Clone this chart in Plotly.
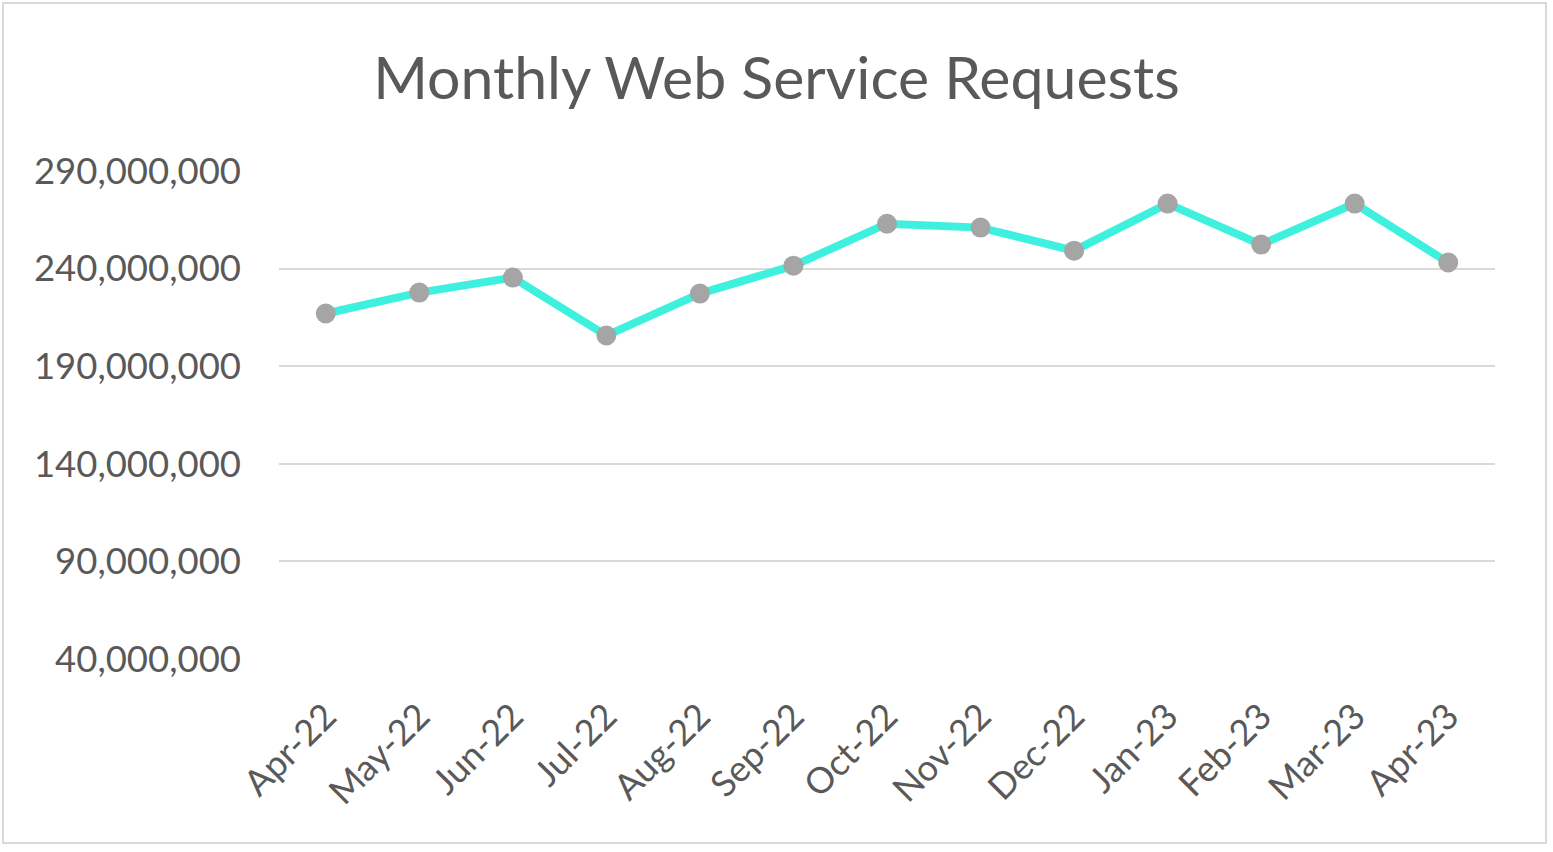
import plotly.graph_objects as go

months = ["Apr-22", "May-22", "Jun-22", "Jul-22", "Aug-22", "Sep-22", "Oct-22",
          "Nov-22", "Dec-22", "Jan-23", "Feb-23", "Mar-23", "Apr-23"]
requests = [217000000, 227700000, 235400000, 205700000, 227200000, 241500000, 263000000,
            261000000, 249200000, 273300000, 252300000, 273300000, 243100000]
y_ticks = [40000000, 90000000, 140000000, 190000000, 240000000, 290000000]

W, H = 1553, 852
L, R, T, B = 279, 58, 171, 193
pw, ph = W - L - R, H - T - B

fig = go.Figure()
fig.add_trace(go.Scatter(
    x=list(range(len(months))), y=requests, mode="lines+markers",
    line=dict(color="#3EF0DE", width=8),
    marker=dict(color="#A5A5A5", size=20),
    hoverinfo="skip", showlegend=False,
))

def px_x(p):
    return (p - L) / pw

def px_y(p):
    return (H - B - p) / ph

fig.update_layout(
    width=W, height=H,
    margin=dict(l=L, r=R, t=T, b=B),
    paper_bgcolor="white", plot_bgcolor="white",
    font=dict(family="Lato, 'Open Sans', sans-serif", color="#595959"),
    title=dict(text="Monthly Web Service Requests", x=0.5, xref="container",
               xanchor="center", y=1 - 78 / H, yref="container", yanchor="middle",
               font=dict(size=59, color="#595959")),
    xaxis=dict(
        tickmode="array", tickvals=list(range(len(months))), ticktext=months,
        range=[-0.5, len(months) - 0.5], tickangle=-45, showgrid=False,
        zeroline=False, showline=False, ticks="", ticklabelstandoff=28,
        tickfont=dict(size=36, color="#595959"), fixedrange=True,
    ),
    yaxis=dict(
        range=[40000000, 290000000], tickvals=y_ticks, tickformat=",d",
        showgrid=True, gridcolor="#D9D9D9", gridwidth=2, zeroline=False,
        showline=False, ticks="", ticklabelstandoff=37,
        tickfont=dict(size=36.5, color="#595959"), fixedrange=True,
    ),
    shapes=[dict(type="rect", xref="paper", yref="paper",
                 x0=px_x(3), x1=px_x(1546), y0=px_y(843), y1=px_y(3),
                 line=dict(color="#D9D9D9", width=2), fillcolor="rgba(0,0,0,0)",
                 layer="below")],
)

fig.write_html("out.html", config={"displayModeBar": False},
               post_script="document.body.style.margin='0px';document.body.style.overflow='hidden';")
